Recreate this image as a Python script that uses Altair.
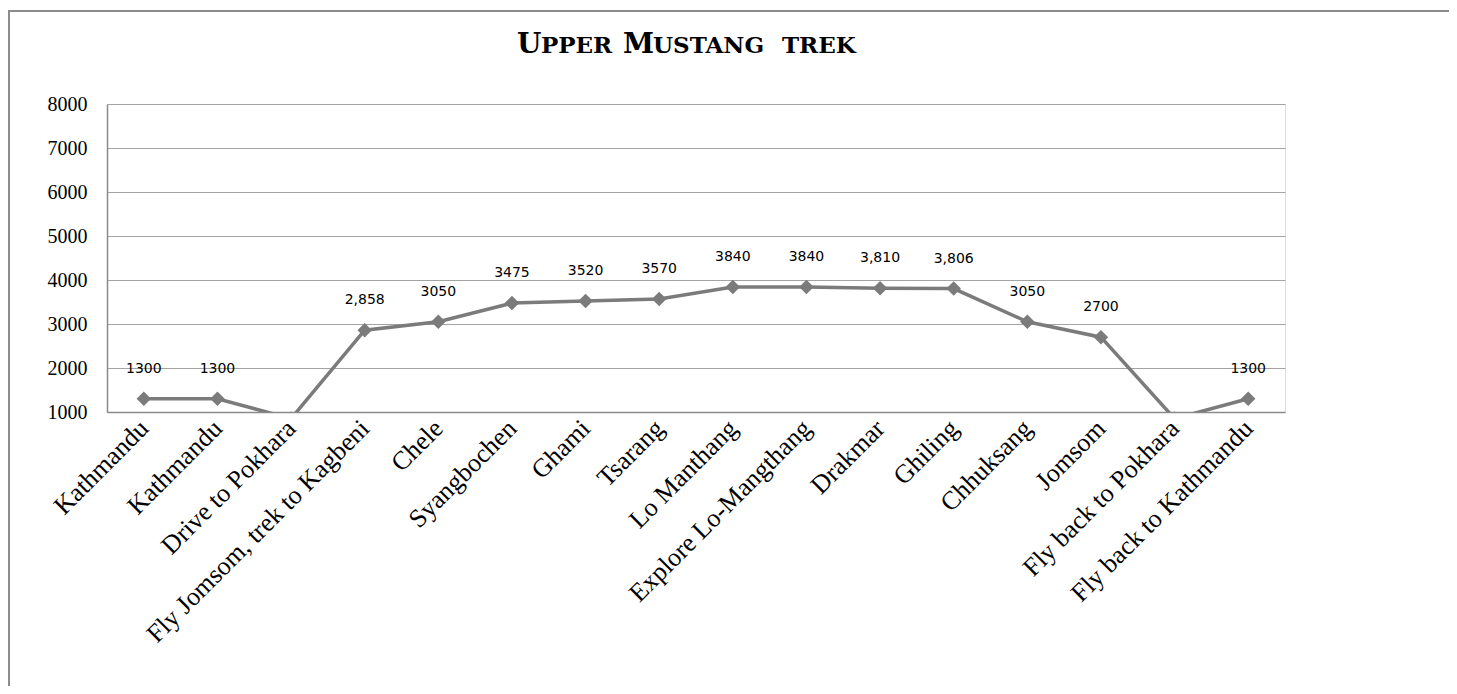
import json
import altair as alt
import pandas as pd

# ---- data ----
stops = [
    "Kathmandu", "Kathmandu", "Drive to Pokhara", "Fly Jomsom, trek to Kagbeni",
    "Chele", "Syangbochen", "Ghami", "Tsarang", "Lo Manthang",
    "Explore Lo-Mangthang", "Drakmar", "Ghiling", "Chhuksang", "Jomsom",
    "Fly back to Pokhara", "Fly back to Kathmandu",
]
altitudes = [1300, 1300, 850, 2858, 3050, 3475, 3520, 3570, 3840,
             3840, 3810, 3806, 3050, 2700, 850, 1300]
value_labels = ["1300", "1300", "", "2,858", "3050", "3475", "3520", "3570", "3840",
                "3840", "3,810", "3,806", "3050", "2700", "", "1300"]
y_ticks = [1000, 2000, 3000, 4000, 5000, 6000, 7000, 8000]

df = pd.DataFrame({
    "idx": list(range(len(stops))),
    "stop": stops,
    "alt": altitudes,
    "lab": value_labels,
})

LINE = "#7b7b7b"
label_expr = json.dumps(stops) + "[datum.value]"

x_enc = alt.X(
    "idx:O",
    title=None,
    axis=alt.Axis(
        labelExpr=label_expr, labelAngle=-45, labelFont="Liberation Serif",
        labelFontSize=26, labelColor="#000000", labelPadding=12, labelLimit=0,
        ticks=False, tickSize=0, domainColor="#8a8a8a", domainWidth=1.5,
        grid=False, labelAlign="right", labelBaseline="middle",
    ),
)
y_enc = alt.Y(
    "alt:Q",
    title=None,
    scale=alt.Scale(domain=[1000, 8000], nice=False, zero=False),
    axis=alt.Axis(
        values=y_ticks, labelFont="Liberation Serif", labelFontSize=20,
        labelColor="#000000", labelPadding=20, ticks=False, tickSize=0,
        domainColor="#8a8a8a", domainWidth=1.5, grid=True,
        gridColor="#a3a3a3", gridWidth=1, format="d",
    ),
)

base = alt.Chart(df)

line = base.mark_line(color=LINE, strokeWidth=3.5, clip=True).encode(x=x_enc, y=y_enc)
points = base.mark_point(shape="diamond", filled=True, color=LINE, size=210,
                         opacity=1, clip=True).encode(x="idx:O", y="alt:Q")
labels = base.mark_text(font="DejaVu Sans", fontSize=14, color="#000000",
                        dy=-30, baseline="middle").encode(
    x="idx:O", y="alt:Q", text="lab:N")

one = pd.DataFrame({"k": [0]})

# outer chart-area frame
frame = alt.Chart(one).mark_rect(fillOpacity=0, stroke="#8c8c8c", strokeWidth=2).encode(
    x=alt.value(-98), x2=alt.value(1400), y=alt.value(-93), y2=alt.value(700))

# small-caps title built from pieces
def piece(txt, size, xpos):
    return alt.Chart(one).mark_text(
        text=txt, font="DejaVu Serif", fontSize=size, fontWeight="bold",
        color="#000000", align="left", baseline="alphabetic").encode(
        x=alt.value(xpos), y=alt.value(-51))

BIG, SMALL = 28, 23
title_layers = [
    piece("U", BIG, 410),
    piece("PPER", SMALL, 434),
    piece("M", BIG, 516),
    piece("USTANG", SMALL, 546),
    piece("TREK", SMALL, 675),
]

chart = alt.layer(frame, line, points, labels, *title_layers).properties(
    width=1178,
    height=308,
    autosize=alt.AutoSizeParams(type="none"),
    padding={"left": 99, "top": 96, "right": 164, "bottom": 274},
).configure_view(stroke=None).configure(background="#ffffff")

chart.save("out.html", embed_options={"renderer": "svg", "actions": False})
